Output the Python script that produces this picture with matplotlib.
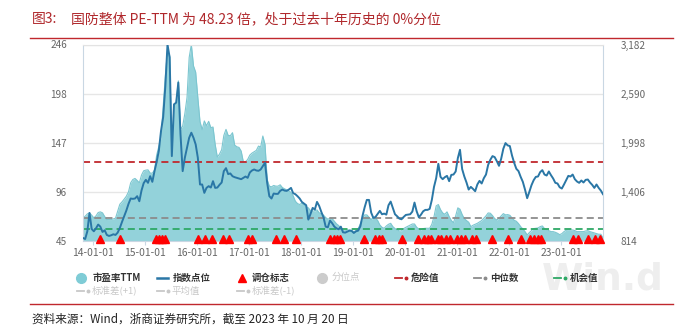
import numpy as np
import pandas as pd
import matplotlib
matplotlib.use("Agg")
from matplotlib import pyplot as plt
from matplotlib.lines import Line2D
import matplotlib.dates as mdates

plt.rcParams['font.family'] = ['Noto Sans CJK SC', 'DejaVu Sans']

## data (semi-monthly samples, 2013-10-21 .. 2023-10-20)
dates = pd.date_range('2013-10-21', '2023-10-20', periods=241)

pe_ttm = [
    68.6, 70.3, 72.7, 73.8, 71.4, 68.6, 70.7, 74.1, 74.8, 73.8,
    70.0, 66.9, 66.9, 66.9, 67.6, 68.3, 75.5, 82.6, 85.0, 87.8,
    90.8, 95.3, 104.5, 107.9, 109.0, 106.9, 104.5, 112.4, 116.8, 117.5,
    117.8, 114.4, 114.4, 117.5, 132.9, 141.8, 150.7, 182.1, 213.9, 239.5,
    234.4, 135.3, 184.8, 186.5, 208.8, 158.9, 162.6, 175.3, 191.7, 232.7,
    246.0, 224.1, 217.7, 191.7, 167.1, 158.9, 167.8, 163.0, 167.4, 160.9,
    161.6, 143.8, 130.8, 133.9, 138.4, 153.0, 159.2, 153.0, 152.7, 155.8,
    143.1, 141.4, 140.7, 137.0, 126.0, 126.0, 128.4, 132.9, 134.9, 136.3,
    137.7, 142.1, 141.1, 152.4, 143.8, 107.9, 101.1, 100.4, 101.8, 101.1,
    101.1, 102.5, 99.7, 98.4, 97.3, 96.3, 94.6, 91.2, 85.7, 83.3,
    82.3, 83.7, 82.3, 80.2, 78.9, 76.1, 75.5, 75.8, 76.8, 73.8,
    72.7, 71.4, 69.0, 67.3, 68.3, 67.9, 65.2, 62.5, 60.8, 58.0,
    55.6, 55.3, 56.3, 56.3, 56.0, 54.6, 55.6, 57.7, 62.4, 68.6,
    71.7, 71.7, 69.3, 66.9, 69.3, 68.6, 65.9, 61.4, 59.0, 58.0,
    60.4, 62.1, 63.1, 59.7, 57.7, 56.3, 55.3, 55.3, 57.7, 59.0,
    60.1, 61.1, 62.4, 62.4, 59.0, 57.3, 56.3, 57.7, 58.0, 58.0,
    58.0, 62.1, 70.0, 80.9, 82.3, 77.1, 73.7, 72.4, 74.8, 70.0,
    65.9, 63.8, 70.7, 78.9, 77.5, 72.0, 67.9, 65.9, 64.2, 59.7,
    61.1, 62.1, 63.1, 64.5, 65.9, 68.3, 70.7, 73.7, 73.4, 71.0,
    67.9, 66.5, 68.3, 70.7, 73.0, 71.7, 72.0, 71.3, 68.6, 66.2,
    65.2, 62.8, 59.7, 57.3, 54.6, 51.2, 53.6, 55.6, 57.7, 58.0,
    58.3, 59.7, 60.4, 57.7, 56.6, 55.6, 54.6, 54.6, 53.9, 52.9,
    51.5, 52.5, 54.6, 56.0, 56.3, 56.3, 56.3, 55.6, 54.6, 54.6,
    54.6, 54.6, 55.3, 55.6, 54.6, 53.9, 53.2, 52.5, 51.9, 51.9, 48.23,
]

index_level = [
    850, 838, 931, 1152, 959, 931, 967, 1012, 987, 923,
    943, 887, 875, 883, 895, 887, 915, 971, 1044, 1112,
    1181, 1261, 1326, 1322, 1326, 1354, 1293, 1422, 1511, 1551,
    1515, 1595, 1527, 1656, 1769, 1902, 2139, 2308, 2679, 3182,
    3025, 1837, 2461, 2481, 2723, 2099, 1656, 1817, 1938, 2058,
    2119, 2058, 1978, 1817, 1495, 1495, 1394, 1454, 1475, 1458,
    1535, 1454, 1458, 1491, 1519, 1656, 1692, 1620, 1628, 1595,
    1583, 1575, 1567, 1559, 1575, 1591, 1575, 1640, 1664, 1676,
    1664, 1660, 1676, 1716, 1757, 1515, 1354, 1326, 1386, 1382,
    1382, 1418, 1434, 1422, 1418, 1434, 1454, 1390, 1378, 1354,
    1326, 1285, 1265, 1245, 1072, 1140, 1213, 1193, 1285, 1237,
    1164, 1100, 987, 979, 1060, 1028, 987, 967, 955, 987,
    919, 915, 927, 939, 935, 911, 931, 939, 991, 1116,
    1221, 1309, 1309, 1156, 1092, 1104, 1140, 1177, 1136, 1144,
    1132, 1245, 1289, 1213, 1136, 1112, 1084, 1076, 1104, 1128,
    1132, 1136, 1168, 1277, 1172, 1100, 1132, 1172, 1189, 1189,
    1201, 1309, 1466, 1571, 1744, 1587, 1559, 1583, 1599, 1535,
    1611, 1615, 1652, 1813, 1913, 1680, 1591, 1519, 1434, 1466,
    1442, 1414, 1495, 1539, 1507, 1571, 1615, 1732, 1793, 1837,
    1825, 1776, 1720, 1805, 1926, 1994, 1966, 1958, 1845, 1756,
    1684, 1656, 1587, 1527, 1434, 1330, 1406, 1487, 1547, 1587,
    1591, 1644, 1668, 1615, 1603, 1652, 1607, 1567, 1515, 1507,
    1462, 1446, 1495, 1547, 1599, 1591, 1615, 1559, 1531, 1515,
    1543, 1519, 1551, 1555, 1519, 1491, 1454, 1495, 1454, 1422, 1378,
]

signal_dates = [
    '2014-02-16', '2014-07-06', '2015-03-19', '2015-04-10', '2015-05-01', '2015-05-22',
    '2016-01-07', '2016-02-23', '2016-04-15', '2016-07-01', '2016-08-12', '2016-12-20',
    '2017-01-18', '2017-07-04', '2017-09-03', '2017-11-22', '2018-07-18', '2018-08-15',
    '2018-09-08', '2018-09-26', '2019-03-20', '2019-05-30', '2019-06-29', '2019-07-23',
    '2019-12-10', '2020-03-28', '2020-05-10', '2020-06-07', '2020-07-01', '2020-08-16',
    '2020-09-09', '2020-10-16', '2020-11-13', '2020-12-30', '2021-01-27', '2021-02-20',
    '2021-04-15', '2021-05-08', '2021-09-02', '2021-12-20', '2022-03-26', '2022-05-28',
    '2022-06-25', '2022-07-19', '2022-08-09', '2023-03-22', '2023-04-25', '2023-07-10',
    '2023-08-27', '2023-10-01',
]

danger_level = 126.0
median_level = 68.6
chance_level = 57.3

pe_ticks = ['45', '96', '147', '198', '246']
idx_ticks = ['814', '1,406', '1,998', '2,590', '3,182']
year_ticks = ['2014-01-01', '2015-01-01', '2016-01-01', '2017-01-01', '2018-01-01',
              '2019-01-01', '2020-01-01', '2021-01-01', '2022-01-01', '2023-01-01']

title_no = '图3:'
title_text = '国防整体 PE-TTM 为 48.23 倍，处于过去十年历史的 0%分位'
source_text = '资料来源：Wind，浙商证券研究所，截至 2023 年 10 月 20 日'

## colours
c_fill = '#93d2da'
c_fill_edge = '#7cc6d0'
c_line = '#2a77a6'
c_red = '#c0282d'
c_gray = '#8c8c8c'
c_green = '#2ea866'
c_axis = '#c9d7e3'
c_dim = '#c8c8c8'

W, H = 676, 328
def fx(x):
    return x / W
def fy(y):
    return 1 - y / H

fig = plt.figure(figsize=(W / 100, H / 100), dpi=100)
ax = fig.add_axes([fx(83), fy(241), (603 - 83) / W, (241 - 44.5) / H])
ax2 = ax.twinx()

lo, hi = 45, 246
ax.fill_between(dates, lo, pe_ttm, color=c_fill, lw=0, zorder=1)
ax.plot(dates, pe_ttm, color=c_fill_edge, lw=0.8, zorder=1.5)

for lvl, col in [(danger_level, c_red), (median_level, c_gray), (chance_level, c_green)]:
    ax.axhline(lvl, color=col, lw=1.3, dashes=(3.9, 2.3), zorder=2)

sig = pd.to_datetime(signal_dates)
ax.plot(sig, [lo + 2.2] * len(sig), ls='none', marker='^', ms=6.3, color='#ff0000',
        mec='#ff0000', zorder=3, clip_on=False)

ax2.plot(dates, index_level, color=c_line, lw=1.4, zorder=4)

ax.set_xlim(dates[0], dates[-1])
ax.set_ylim(lo, hi)
ax2.set_ylim(814, 3182)
ax.set_yticks(np.linspace(lo, hi, 5))
ax.set_yticklabels(pe_ticks)
ax2.set_yticks(np.linspace(814, 3182, 5))
ax2.set_yticklabels(idx_ticks)
ax.set_xticks(pd.to_datetime(year_ticks))
ax.xaxis.set_major_formatter(mdates.DateFormatter('%y-%m-%d'))

ax.yaxis.grid(True, color='#e6e6e6', lw=1)
ax.set_axisbelow(True)

ax.tick_params(axis='y', left=False, labelsize=7.2, labelcolor='#666666', pad=8)
ax2.tick_params(axis='y', right=False, labelsize=7.2, labelcolor='#666666', pad=9)
ax.tick_params(axis='x', length=3, color=c_axis, labelsize=7.4, labelcolor='#666666', pad=2)

for s in ['left', 'right', 'bottom']:
    ax.spines[s].set_color(c_axis)
ax.spines['top'].set_color('#e3e3e3')
for s in ax2.spines.values():
    s.set_visible(False)

## title, rules, source
fig.text(fx(32), fy(19.5), title_no, fontsize=10, color='#b0282c', va='center')
fig.text(fx(71), fy(19.5), title_text, fontsize=10, color='#b0282c', va='center')
fig.add_artist(Line2D([fx(30), fx(673)], [fy(38), fy(38)], color=c_red, lw=1))
fig.add_artist(Line2D([fx(30), fx(673)], [fy(304), fy(304)], color=c_red, lw=1))
fig.text(fx(32), fy(319.5), source_text, fontsize=8.4, color='#222222', va='center')

## watermark
fig.text(fx(542), fy(289), 'Win.d', fontsize=27, weight='bold', color='#eeeeee',
         va='baseline', family='DejaVu Sans', zorder=0)

## legend
def leg_text(x, y, s, col):
    fig.text(fx(x), fy(y), s, fontsize=6.8, color=col, va='center',
             weight='bold' if col != c_dim else 'normal')

def leg_dashdot(x, y, col):
    fig.add_artist(Line2D([fx(x), fx(x + 7)], [fy(y), fy(y)], color=col, lw=1.3))
    fig.add_artist(Line2D([fx(x + 10.5)], [fy(y)], marker='o', ms=1.8, color=col, lw=0))

r1, r2 = 277.7, 291
fig.add_artist(Line2D([fx(80.7)], [fy(r1)], marker='o', ms=7, color='#7fccd6', lw=0))
leg_text(92.7, r1, '市盈率TTM', '#333333')
fig.add_artist(Line2D([fx(156.7), fx(168.3)], [fy(r1), fy(r1)], color=c_line, lw=1.8))
leg_text(172.7, r1, '指数点位', '#333333')
fig.add_artist(Line2D([fx(241.7)], [fy(r1)], marker='^', ms=6, color='#ff0000', lw=0))
leg_text(251.7, r1, '调仓标志', '#333333')
fig.add_artist(Line2D([fx(321.7)], [fy(r1)], marker='o', ms=7, color='#cccccc', lw=0))
leg_text(331.7, r1, '分位点', c_dim)
leg_dashdot(395, r1, c_red)
leg_text(410.7, r1, '危险值', '#333333')
leg_dashdot(474, r1, c_gray)
leg_text(490, r1, '中位数', '#333333')
leg_dashdot(554, r1, c_green)
leg_text(570, r1, '机会值', '#333333')

leg_dashdot(77, r2, c_dim)
leg_text(91.7, r2, '标准差(+1)', c_dim)
leg_dashdot(157, r2, c_dim)
leg_text(171.7, r2, '平均值', c_dim)
leg_dashdot(237, r2, c_dim)
leg_text(251.7, r2, '标准差(-1)', c_dim)

plt.savefig('out.png', dpi=100)
